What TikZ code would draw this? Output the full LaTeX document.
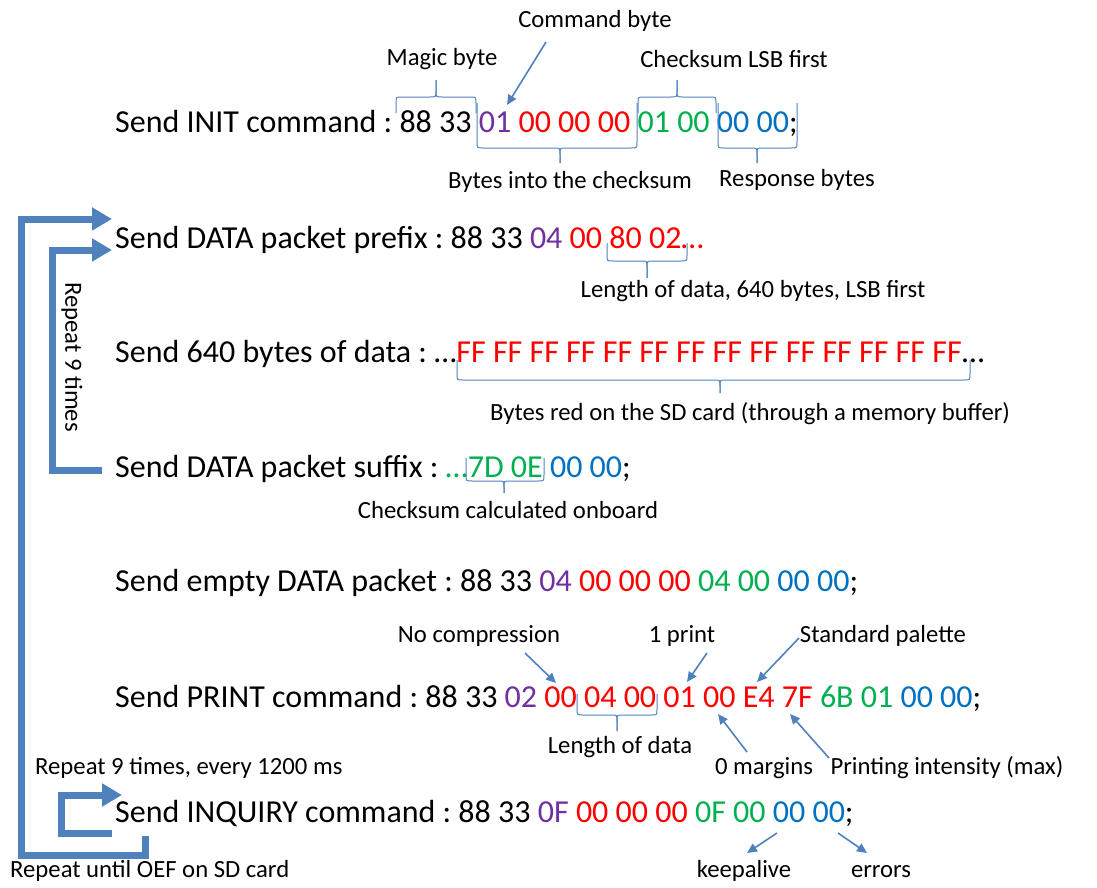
\documentclass[tikz,border=0pt]{standalone}
\usepackage{fontspec}
\setmainfont{Carlito}
\usetikzlibrary{arrows.meta}
\definecolor{cpur}{HTML}{7030A0}
\definecolor{cred}{HTML}{FF0000}
\definecolor{cgrn}{HTML}{00B050}
\definecolor{cblu}{HTML}{0070C0}
\definecolor{cline}{HTML}{4F81BD}
\newcommand{\mainsz}{\fontsize{32bp}{39bp}\selectfont}
\newcommand{\annsz}{\fontsize{24.7bp}{29bp}\selectfont}
\frenchspacing
% brace: x1 x2 xm ybar yend ytip r(signed)
\newcommand{\pbr}[7]{%
 \draw[brc] (#1,#5) -- (#1,{#4-(#7)}) .. controls (#1,#4) .. ({#1+abs(#7)},#4) -- ({#3-abs(#7)},#4) .. controls (#3,#4) .. (#3,{#4+(#7)}) -- (#3,#6);
 \draw[brc] (#3,#6) -- (#3,{#4+(#7)}) .. controls (#3,#4) .. ({#3+abs(#7)},#4) -- ({#2-abs(#7)},#4) .. controls (#2,#4) .. (#2,{#4-(#7)}) -- (#2,#5);}
\begin{document}
\begin{tikzpicture}[x=1bp,y=-1bp,
 mainline/.style={anchor=base west, inner sep=0pt, font=\mainsz},
 ann/.style={anchor=base, inner sep=0pt, font=\annsz},
 annl/.style={anchor=base west, inner sep=0pt, font=\annsz},
 brc/.style={draw=cline, line width=1bp},
 callout/.style={draw=cline, line width=1.6bp, -{Triangle[length=10bp,width=9bp]}},
 loopar/.style={draw=cline, line width=7bp, line join=miter, -{Triangle[length=20bp,width=22bp]}}]
\useasboundingbox (0,0) rectangle (1097,888);

% main lines
\node[mainline] (init) at (115,132) {Send INIT command : 88 33 \textcolor{cpur}{01} \textcolor{cred}{00 00 00} \textcolor{cgrn}{01 00} \textcolor{cblu}{00 00};};
\node[mainline] (prefix) at (115,248) {Send DATA packet prefix : 88 33 \textcolor{cpur}{04} \textcolor{cred}{00 80 02…}};
\node[mainline] (data) at (115,362) {Send 640 bytes of data : …\textcolor{cred}{FF FF FF FF FF FF FF FF FF FF FF FF FF FF}…};
\node[mainline] (suffix) at (115,477) {Send DATA packet suffix : \textcolor{cgrn}{…7D 0E} \textcolor{cblu}{00 00};};
\node[mainline] (empty) at (115,591) {Send empty DATA packet : 88 33 \textcolor{cpur}{04} \textcolor{cred}{00 00 00} \textcolor{cgrn}{04 00} \textcolor{cblu}{00 00};};
\node[mainline] (print) at (115,707) {Send PRINT command : 88 33 \textcolor{cpur}{02} \textcolor{cred}{00 04 00 01 00 E4 7F} \textcolor{cgrn}{6B 01} \textcolor{cblu}{00 00};};
\node[mainline] (inquiry) at (115,822) {Send INQUIRY command : 88 33 \textcolor{cpur}{0F} \textcolor{cred}{00 00 00} \textcolor{cgrn}{0F 00} \textcolor{cblu}{00 00};};

% annotations
\node[ann] (lcmd) at (595,27) {Command byte};
\node[ann] (lmagic) at (442,65) {Magic byte};
\node[ann] (lcks) at (734,67) {Checksum LSB first};
\node[ann] (linto) at (570,188) {Bytes into the checksum};
\node[ann] (lresp) at (797,186) {Response bytes};
\node[ann] (llen) at (753,297) {Length of data, 640 bytes, LSB first};
\node[ann] (lred) at (750,420) {Bytes red on the SD card (through a memory buffer)};
\node[ann] (lonb) at (508,518) {Checksum calculated onboard};
\node[ann] (lnoc) at (479,642) {No compression};
\node[ann] (lone) at (682,642) {1 print};
\node[ann] (lpal) at (883,642) {Standard palette};
\node[ann] (lplen) at (620,753) {Length of data};
\node[ann] (lmarg) at (764,774) {0 margins};
\node[ann] (lint) at (947,774) {Printing intensity (max)};
\node[annl] (lrep9ms) at (35,774) {Repeat 9 times, every 1200 ms};
\node[ann] (lkeep) at (744,877) {keepalive};
\node[ann] (lerr) at (881,877) {errors};
\node[annl] (luntil) at (10,877) {Repeat until OEF on SD card};
\node[font=\annsz, inner sep=0pt, rotate=-90, anchor=center] (lrep9) at (72,357) {Repeat 9 times};

% braces
\pbr{396}{476}{436}{97}{113}{80}{-6}
\pbr{638}{716}{677}{97}{113}{80}{-6}
\pbr{477}{637}{560}{148}{103}{163}{6}
\pbr{718}{797}{757}{148}{103}{163}{6}
\pbr{607}{687}{647}{261}{243}{278}{6}
\pbr{457}{970}{720}{380}{360}{393}{6}
\pbr{466}{544}{504}{481}{458}{493}{6}
\pbr{577}{657}{617}{715}{694}{731}{6}

% callout arrows
\coordinate (cmdA) at (546,42);   \coordinate (cmdB) at (507,105);
\coordinate (nocA) at (525,653);  \coordinate (nocB) at (556,683);
\coordinate (oneA) at (707,653);  \coordinate (oneB) at (687,682);
\coordinate (palA) at (799,638);  \coordinate (palB) at (757,682);
\coordinate (marA) at (747,752);  \coordinate (marB) at (718,714);
\coordinate (intA) at (829,758);  \coordinate (intB) at (790,714);
\coordinate (kepA) at (777,833);  \coordinate (kepB) at (747,853);
\coordinate (errA) at (838,833);  \coordinate (errB) at (867,853);
\draw[callout] (cmdA) -- (cmdB);
\draw[callout] (nocA) -- (nocB);
\draw[callout] (oneA) -- (oneB);
\draw[callout] (palA) -- (palB);
\draw[callout] (marA) -- (marB);
\draw[callout] (intA) -- (intB);
\draw[callout] (kepA) -- (kepB);
\draw[callout] (errA) -- (errB);

% loop arrows
\coordinate (outS) at (145,836);
\coordinate (outE) at (112,219);
\draw[loopar] (outS) -- (145,855) -- (21,855) -- (21,219) -- (outE);
\coordinate (innS) at (102,470);
\coordinate (innE) at (112,250);
\draw[loopar] (innS) -- (52,470) -- (52,250) -- (innE);
\coordinate (inqS) at (112,833);
\coordinate (inqE) at (122,795);
\draw[loopar] (inqS) -- (61,833) -- (61,795) -- (inqE);
\end{tikzpicture}
\end{document}
